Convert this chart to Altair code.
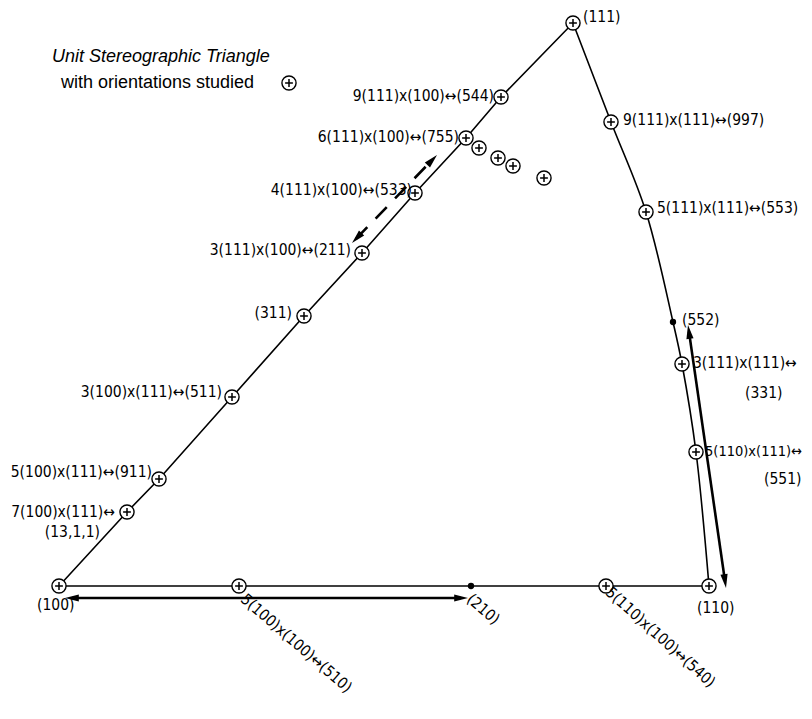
import math
import altair as alt
import pandas as pd

W, H = 796, 700
OX, OY = 8, 8
FONT = "DejaVu Sans Condensed, DejaVu Sans"
TFONT = "Liberation Sans"

# ---- positions (reference pixel coordinates) ----
left_x = [59, 127, 159, 232, 304, 362, 415, 466, 501, 573]
left_y = [586, 512, 479, 397, 316, 253, 193, 138, 97, 23]
base_x = [59, 239, 471, 606, 709]
base_y = [586, 586, 586, 586, 586]
right_x = [573, 611, 646, 673, 682, 696, 709]
right_y = [23, 122, 212, 322, 364, 452, 586]

studied_x = [59, 127, 159, 232, 304, 362, 415, 466, 501, 573,
             239, 606, 709, 611, 646, 682, 696,
             479, 498, 513, 544, 289]
studied_y = [586, 512, 479, 397, 316, 253, 193, 138, 97, 23,
             586, 586, 586, 122, 212, 364, 452,
             148, 158, 166, 178, 83]

dot_x = [673, 471]
dot_y = [322, 586]

arrow_x1 = [65, 688]
arrow_y1 = [598, 325]
arrow_x2 = [468, 726]
arrow_y2 = [598, 588]

dash_x1 = [352]
dash_y1 = [243]
dash_x2 = [437]
dash_y2 = [155]

title_lab = ["Unit Stereographic Triangle", "with orientations studied"]
title_x = [52, 61]
title_y = [57, 83]

rlab = ["9(111)x(100)↔(544)", "6(111)x(100)↔(755)", "4(111)x(100)↔(533)",
        "3(111)x(100)↔(211)", "(311)", "3(100)x(111)↔(511)",
        "5(100)x(111)↔(911)", "7(100)x(111)↔", "(13,1,1)"]
rlab_x = [494, 459, 412, 351, 292, 222, 152, 115, 100]
rlab_y = [96, 137, 190, 250, 313, 392, 472, 512, 532]

llab = ["(111)", "9(111)x(111)↔(997)", "5(111)x(111)↔(553)", "(552)",
        "3(111)x(111)↔", "(331)", "(551)", "(100)", "(110)"]
llab_x = [583, 623, 657, 682, 693, 745, 764, 37, 697]
llab_y = [17, 120, 208, 320, 363, 393, 479, 605, 608]

edge_lab = ["5(110)x(111)↔"]
edge_lab_x = [705]
edge_lab_y = [452]

rotlab = ["5(100)x(100)↔(510)", "(210)", "5(110)x(100)↔(540)"]
rotlab_x = [243, 469, 608]
rotlab_y = [597, 597, 590]
rotlab_ang = [41, 41, 42]

# ---- tables ----
def poly(xs, ys, seg):
    return pd.DataFrame({"x": xs, "y": ys, "ord": list(range(len(xs))), "seg": seg})

straight = pd.concat([poly(left_x, left_y, "left"), poly(base_x, base_y, "base")])
curved = poly(right_x, right_y, "right")
studied = pd.DataFrame({"x": studied_x, "y": studied_y})
dots = pd.DataFrame({"x": dot_x, "y": dot_y})

def shafts_and_heads(x1s, y1s, x2s, y2s, back=7):
    shafts, heads = [], []
    for x1, y1, x2, y2 in zip(x1s, y1s, x2s, y2s):
        L = math.hypot(x2 - x1, y2 - y1)
        ux, uy = (x2 - x1) / L, (y2 - y1) / L
        shafts.append({"x": x1 + ux * back, "y": y1 + uy * back,
                       "x2": x2 - ux * back, "y2": y2 - uy * back})
        a2 = math.degrees(math.atan2(ux, -uy)) % 360
        a1 = (a2 + 180) % 360
        heads.append({"x": x2, "y": y2, "ang": a2})
        heads.append({"x": x1, "y": y1, "ang": a1})
    return pd.DataFrame(shafts), pd.DataFrame(heads)

sh, hd = shafts_and_heads(arrow_x1, arrow_y1, arrow_x2, arrow_y2)
dsh, dhd = shafts_and_heads(dash_x1, dash_y1, dash_x2, dash_y2, back=6)

xs = alt.Scale(domain=[OX, OX + W], nice=False, zero=False)
ys = alt.Scale(domain=[OY + H, OY], nice=False, zero=False)
X = lambda f="x": alt.X(f"{f}:Q", scale=xs, axis=None)
Y = lambda f="y": alt.Y(f"{f}:Q", scale=ys, axis=None)

edges = alt.Chart(straight).mark_line(color="black", strokeWidth=1.6).encode(
    x=X(), y=Y(), order="ord:Q", detail="seg:N")
arc = alt.Chart(curved).mark_line(color="black", strokeWidth=1.6,
                                  interpolate="catmull-rom").encode(
    x=X(), y=Y(), order="ord:Q")

arrows = alt.Chart(sh).mark_rule(color="black", strokeWidth=2.6).encode(
    x=X(), y=Y(), x2="x2:Q", y2="y2:Q")
dashed = alt.Chart(dsh).mark_rule(color="black", strokeWidth=2.6,
                                  strokeDash=[16, 12]).encode(
    x=X(), y=Y(), x2="x2:Q", y2="y2:Q")
HEAD = "M0,0L-0.6,2.3L0.6,2.3Z"
heads = alt.Chart(pd.concat([hd, dhd])).mark_point(
    shape=HEAD, size=144, filled=True, color="black", opacity=1, strokeWidth=0.5).encode(
    x=X(), y=Y(), angle=alt.Angle("ang:Q", scale=None))

circles = alt.Chart(studied).mark_point(
    shape="circle", size=200, filled=True, fill="white", stroke="black",
    strokeWidth=1.4, opacity=1).encode(x=X(), y=Y())
pluses = alt.Chart(studied).mark_point(
    shape="M-0.55,0H0.55M0,-0.55V0.55", size=200, filled=False,
    color="black", strokeWidth=1.5, opacity=1).encode(x=X(), y=Y())
dotm = alt.Chart(dots).mark_point(
    shape="circle", size=40, filled=True, color="black", opacity=1).encode(x=X(), y=Y())

t1 = alt.Chart(pd.DataFrame({"x": title_x[:1], "y": title_y[:1], "t": title_lab[:1]})).mark_text(
    align="left", baseline="middle", font=TFONT, fontSize=18, fontStyle="italic",
    color="black").encode(x=X(), y=Y(), text="t:N")
t2 = alt.Chart(pd.DataFrame({"x": title_x[1:], "y": title_y[1:], "t": title_lab[1:]})).mark_text(
    align="left", baseline="middle", font=TFONT, fontSize=18,
    color="black").encode(x=X(), y=Y(), text="t:N")

rtext = alt.Chart(pd.DataFrame({"x": rlab_x, "y": rlab_y, "t": rlab})).mark_text(
    align="right", baseline="middle", font=FONT, fontSize=15.5, color="black").encode(
    x=X(), y=Y(), text="t:N")
ltext = alt.Chart(pd.DataFrame({"x": llab_x, "y": llab_y, "t": llab})).mark_text(
    align="left", baseline="middle", font=FONT, fontSize=15.5, color="black").encode(
    x=X(), y=Y(), text="t:N")
etext = alt.Chart(pd.DataFrame({"x": edge_lab_x, "y": edge_lab_y, "t": edge_lab})).mark_text(
    align="left", baseline="middle", font=FONT, fontSize=14.5, color="black").encode(
    x=X(), y=Y(), text="t:N")
otext = alt.Chart(pd.DataFrame({"x": rotlab_x, "y": rotlab_y, "t": rotlab,
                                "ang": rotlab_ang})).mark_text(
    align="left", baseline="middle", font=FONT, fontSize=15.5, color="black").encode(
    x=X(), y=Y(), text="t:N", angle=alt.Angle("ang:Q", scale=None))

chart = alt.layer(
    edges, arc, arrows, dashed, heads, circles, pluses, dotm,
    t1, t2, rtext, ltext, etext, otext
).properties(
    width=W, height=H, padding=0,
    autosize=alt.AutoSizeParams(type="none"),
    background="white",
).configure_view(stroke=None)

chart.save("out.html", embed_options={"renderer": "svg", "actions": False})
